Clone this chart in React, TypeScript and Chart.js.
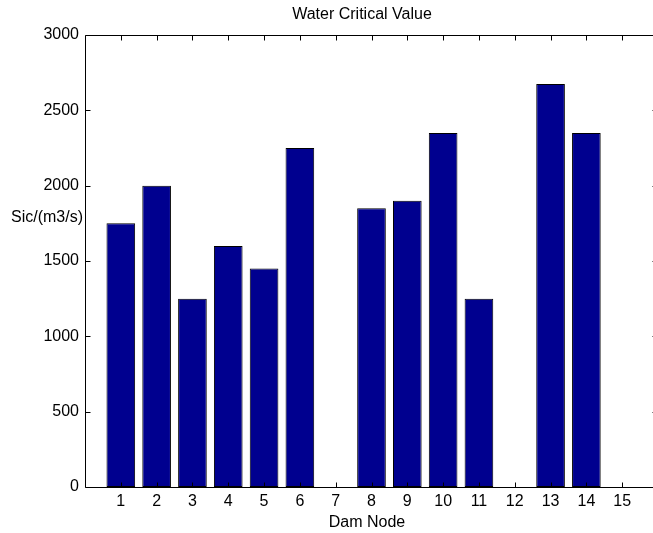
import { useEffect, useRef } from 'react';
import { Chart, registerables } from 'chart.js';

Chart.register(...registerables);

const nodes = [1, 2, 3, 4, 5, 6, 7, 8, 9, 10, 11, 12, 13, 14, 15];
const values = [1750, 2000, 1250, 1600, 1450, 2250, 0, 1850, 1900, 2350, 1250, 0, 2675, 2350, 0];
const yTicks = [0, 500, 1000, 1500, 2000, 2500, 3000];
const titleText = 'Water Critical Value';
const xTitle = 'Dam Node';
const yTitle = 'Sic/(m3/s)';

const FAMILY = '"Liberation Sans", Arial, Helvetica, sans-serif';
const FSIZE = 16;

const framePlugin = {
  id: 'matlabFrame',
  afterDraw(chart: any) {
    const { ctx, chartArea } = chart;
    const { left, right, top, bottom } = chartArea;
    const L = Math.round(left) + 0.5;
    const R = Math.round(right) + 0.5;
    const T = Math.round(top) + 0.5;
    const B = Math.round(bottom) + 0.5;
    const tl = 5;
    ctx.save();
    ctx.strokeStyle = '#000';
    ctx.lineWidth = 1;
    ctx.beginPath();
    ctx.rect(L, T, R - L, B - T);
    const xs = chart.scales.x;
    const ys = chart.scales.y;
    xs.ticks.forEach((t: any) => {
      const px = Math.round(xs.getPixelForValue(t.value)) + 0.5;
      ctx.moveTo(px, B);
      ctx.lineTo(px, B - tl);
      ctx.moveTo(px, T);
      ctx.lineTo(px, T + tl);
    });
    ys.ticks.forEach((t: any) => {
      const py = Math.round(ys.getPixelForValue(t.value)) + 0.5;
      ctx.moveTo(L, py);
      ctx.lineTo(L + tl, py);
      ctx.moveTo(R, py);
      ctx.lineTo(R - tl - 1, py);
    });
    ctx.stroke();

    ctx.fillStyle = '#000';
    ctx.font = `${FSIZE}px ${FAMILY}`;
    ctx.textBaseline = 'middle';
    ctx.textAlign = 'center';
    ctx.fillText(titleText, 362, 15);
    ctx.fillText(xTitle, 367, 523);
    ctx.textAlign = 'right';
    ctx.fillText(yTitle, 83, 218);
    ctx.restore();
  },
};

export default function App() {
  const ref = useRef<HTMLCanvasElement>(null);
  useEffect(() => {
    const canvas = ref.current;
    if (!canvas) return;
    const font = { family: FAMILY, size: FSIZE };
    const chart = new Chart(canvas, {
      type: 'bar',
      data: {
        datasets: [
          {
            data: nodes.map((n, i) => ({ x: n, y: values[i] })),
            backgroundColor: '#00008F',
            borderColor: '#000000',
            borderWidth: 1,
            borderSkipped: false,
            barPercentage: 0.8,
            categoryPercentage: 1,
          },
        ],
      },
      options: {
        responsive: false,
        animation: false,
        devicePixelRatio: 1,
        layout: { padding: { top: 35, right: 42, left: 0, bottom: 0 } },
        plugins: {
          legend: { display: false },
          tooltip: { enabled: false },
          title: { display: false },
        },
        scales: {
          x: {
            type: 'linear',
            min: 0,
            max: 16,
            offset: false,
            grid: { display: false, drawTicks: false },
            border: { display: false },
            afterBuildTicks: (s: any) => {
              s.ticks = nodes.map((v) => ({ value: v }));
            },
            afterFit: (s: any) => {
              s.height = 46;
            },
            ticks: {
              font,
              color: '#000',
              padding: 5,
              autoSkip: false,
              maxRotation: 0,
              minRotation: 0,
              callback: (v: any) => String(v),
            },
          },
          y: {
            type: 'linear',
            min: 0,
            max: 3000,
            grid: { display: false, drawTicks: false },
            border: { display: false },
            afterBuildTicks: (s: any) => {
              s.ticks = yTicks.map((v) => ({ value: v }));
            },
            afterFit: (s: any) => {
              s.width = 85;
            },
            ticks: { font, color: '#000', padding: 6, callback: (v: any) => String(v) },
          },
        },
      },
      plugins: [framePlugin],
    } as any);
    return () => chart.destroy();
  }, []);

  return (
    <div
      style={{
        position: 'fixed',
        left: 0,
        top: 0,
        width: 653,
        height: 533,
        overflow: 'hidden',
        background: '#fff',
      }}
    >
      <canvas ref={ref} width={700} height={533} style={{ display: 'block' }} />
    </div>
  );
}
